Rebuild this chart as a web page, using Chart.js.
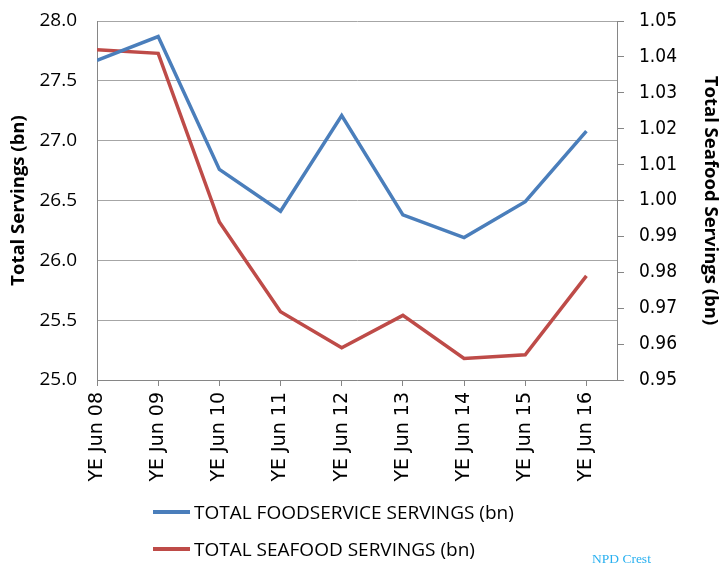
<!DOCTYPE html>
<html><head><meta charset="utf-8">
<script src="https://cdn.jsdelivr.net/npm/chart.js@4"></script>
<style>
html,body{margin:0;padding:0;background:#fff;}
#wrap{position:relative;width:720px;height:565px;}
#legend{position:absolute;left:153px;top:0;font-family:'Open Sans',sans-serif;font-size:19px;color:#000;}
.item{position:absolute;left:0;white-space:nowrap;display:flex;align-items:center;height:26px;}
.sw{display:inline-block;width:37px;height:4px;margin-right:4px;}
#npd{position:absolute;left:592px;top:551px;font-family:'Liberation Serif',serif;font-size:13.5px;color:#29b0f0;white-space:nowrap;}
</style></head><body>
<div id="wrap"><canvas id="c" width="720" height="565"></canvas>
<div id="legend"></div><div id="npd">NPD Crest</div></div>
<script>
const categories = ['YE Jun 08','YE Jun 09','YE Jun 10','YE Jun 11','YE Jun 12','YE Jun 13','YE Jun 14','YE Jun 15','YE Jun 16'];
const foodservice = [27.67, 27.87, 26.76, 26.41, 27.21, 26.38, 26.19, 26.49, 27.08];
const seafood = [1.042, 1.041, 0.994, 0.969, 0.959, 0.968, 0.956, 0.957, 0.979];
const seriesNames = ['TOTAL FOODSERVICE SERVINGS (bn)', 'TOTAL SEAFOOD SERVINGS (bn)'];
const leftTitle = 'Total Servings (bn)';
const rightTitle = 'Total Seafood Servings (bn)';
const colors = ['#4a7ebb', '#be4b48'];

const toPts = arr => arr.map((v, i) => ({x: i, y: v}));

new Chart(document.getElementById('c'), {
  type: 'line',
  data: {
    datasets: [
      {label: seriesNames[0], data: toPts(foodservice), yAxisID: 'y', borderColor: colors[0], backgroundColor: colors[0], borderWidth: 3.5, pointRadius: 0, tension: 0},
      {label: seriesNames[1], data: toPts(seafood), yAxisID: 'y1', borderColor: colors[1], backgroundColor: colors[1], borderWidth: 3.5, pointRadius: 0, tension: 0}
    ]
  },
  options: {
    responsive: false, animation: false, devicePixelRatio: 1,
    layout: {padding: {top: 21, left: 0, right: 0, bottom: 0}},
    plugins: {legend: {display: false}, tooltip: {enabled: false}},
    scales: {
      x: {
        type: 'linear', min: 0, max: 8.5, position: 'bottom',
        ticks: {stepSize: 1, includeBounds: false, autoSkip: false, minRotation: 90, maxRotation: 90, padding: 6, color: '#000',
          font: {family: 'DejaVu Sans', size: 19},
          callback: v => Number.isInteger(v) && categories[v] !== undefined ? categories[v] : ''},
        grid: {drawOnChartArea: false, drawTicks: true, tickLength: 6, color: '#868686'},
        border: {color: '#868686'},
        afterFit: s => { s.height = 185; s.paddingLeft = 0; s.paddingRight = 0; }
      },
      y: {
        position: 'left', min: 25, max: 28,
        ticks: {stepSize: 0.5, padding: 20, color: '#000', font: {family: 'Open Sans', size: 19}, callback: v => Number(v).toFixed(1)},
        grid: {color: '#a6a6a6', drawTicks: false},
        border: {color: '#868686'},
        title: {display: true, text: leftTitle, color: '#000', font: {family: 'Open Sans', size: 18.5, weight: 'bold', lineHeight: 1}, padding: {top: 9, bottom: 0}},
        afterFit: s => { s.width = 97; s.paddingTop = 0; s.paddingBottom = 0; }
      },
      y1: {
        position: 'right', min: 0.95, max: 1.05,
        ticks: {stepSize: 0.01, padding: 15, color: '#000', font: {family: "'DejaVu Sans Condensed', 'DejaVu Sans'", size: 19}, callback: v => Number(v).toFixed(2)},
        grid: {drawOnChartArea: false, drawTicks: true, tickLength: 7, color: '#868686'},
        border: {color: '#868686'},
        title: {display: true, text: rightTitle, color: '#000', font: {family: 'Open Sans', size: 18.5, weight: 'bold', lineHeight: 1}, padding: {top: 0, bottom: 0}},
        afterFit: s => { s.width = 103; s.paddingTop = 0; s.paddingBottom = 0; }
      }
    }
  }
});

const legend = document.getElementById('legend');
const rowTops = [499, 536];
seriesNames.forEach((name, i) => {
  const d = document.createElement('div');
  d.className = 'item';
  d.style.top = rowTops[i] + 'px';
  const sw = document.createElement('span');
  sw.className = 'sw';
  sw.style.background = colors[i];
  const t = document.createElement('span');
  t.textContent = name;
  d.appendChild(sw); d.appendChild(t);
  legend.appendChild(d);
});
</script>
</body></html>
